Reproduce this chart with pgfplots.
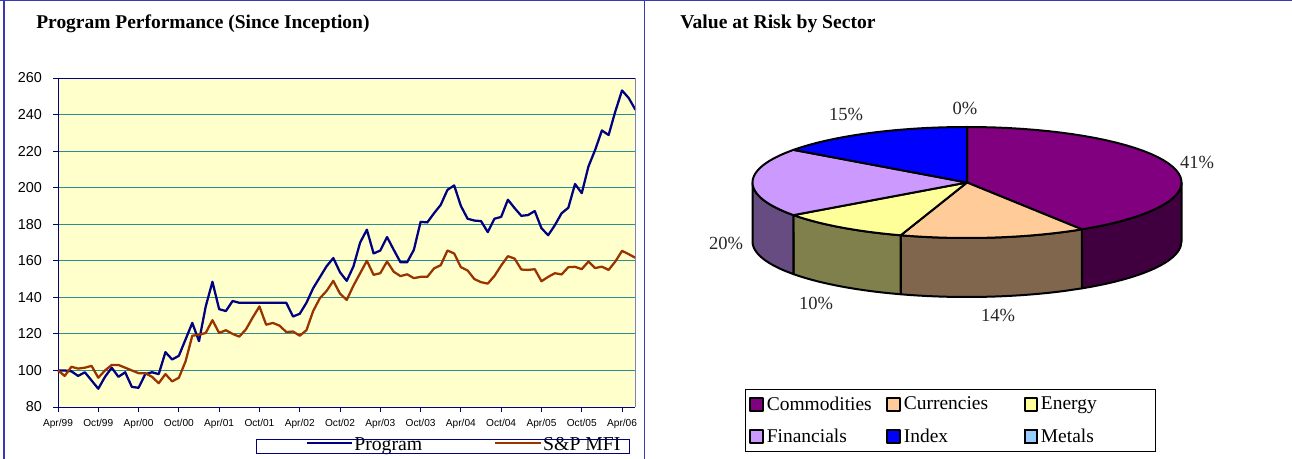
\documentclass[border=0pt]{standalone}
\usepackage{fontspec}
\setmainfont{Liberation Serif}
\newfontfamily\arialf{Liberation Sans}
\usepackage{pgfplots}
\pgfplotsset{compat=1.18}
\definecolor{frameblue}{HTML}{3A3AB0}
\definecolor{navyl}{HTML}{000080}
\definecolor{brownl}{HTML}{993300}
\definecolor{plotbg}{HTML}{FFFFCC}
\definecolor{gridt}{HTML}{2F8C8C}
\definecolor{cComm}{HTML}{800080}
\definecolor{cCurr}{HTML}{FFCC99}
\definecolor{cEner}{HTML}{FFFF99}
\definecolor{cFina}{HTML}{CC99FF}
\definecolor{cIndx}{HTML}{0000FF}
\definecolor{cMetl}{HTML}{99CCFF}
\definecolor{sComm}{HTML}{400040}
\definecolor{sCurr}{HTML}{80664C}
\definecolor{sEner}{HTML}{80804C}
\definecolor{sFina}{HTML}{664C80}
\newcommand\pad[1]{\rule{#1}{0pt}}
\newcommand\pieslice[4]{\addplot[fill=#3,draw=black,line width=1.5pt,line join=round,variable=\s,
  samples at={-1,0,0.025,...,0.975,1}]
  ({\s<0 ? 967 : 967+214.5*sin(#1+(#2-#1)*\s)},{\s<0 ? 182.5 : 182.5-55.5*cos(#1+(#2-#1)*\s)}) -- cycle;
  \addlegendentry{#4}}
\newcommand\pieside[3]{\addplot[forget plot,fill=#3,draw=black,line width=1.5pt,line join=round,variable=\s,
  samples at={0,0.05,...,0.95,1,1.001,1.05,1.1,...,1.95,2}]
  ({967+214.5*sin(\s<=1 ? #1+(#2-#1)*\s : #2-(#2-#1)*(\s-1))},
   {182.5-55.5*cos(\s<=1 ? #1+(#2-#1)*\s : #2-(#2-#1)*(\s-1))+(\s<=1 ? 0 : 59)}) -- cycle;}
\begin{document}
\begin{tikzpicture}
\path[use as bounding box] (0,0) rectangle (969pt,344.25pt);
\begin{axis}[
  at={(43.5pt,39pt)},anchor=south west,scale only axis,
  width=433.1pt,height=246.75pt,
  xmin=0,xmax=86,ymin=80,ymax=260,
  axis background/.style={fill=plotbg},
  axis line style={navyl,line width=0.7pt},
  axis x line*=bottom, axis y line*=left,
  ytick={80,100,...,260},
  xtick={0,6,...,84},
  xticklabels={Apr/99,Oct/99,Apr/00,Oct/00,Apr/01,Oct/01,Apr/02,Oct/02,Apr/03,Oct/03,Apr/04,Oct/04,Apr/05,Oct/05,Apr/06},
  ymajorgrids,
  grid style={gridt,line width=0.6pt},
  tick style={navyl,line width=0.6pt},
  tick align=outside,
  major tick length=3.5pt,
  /pgf/number format/assume math mode=true,
  y tick label style={font=\arialf\fontsize{10.8}{12}\selectfont,xshift=-5pt},
  x tick label style={font=\arialf\fontsize{7.6}{9}\selectfont,yshift=-2.2pt},
  title={Program Performance (Since Inception)},
  title style={at={(-0.038,1.14)},anchor=west,font=\bfseries\fontsize{14.6}{16}\selectfont,inner sep=0pt},
  clip=false,
  legend columns=2,
  legend image code/.code={\draw[#1] (0pt,0pt) -- (34pt,0pt);},
  legend style={at={(axis cs:36.8,60.2)},anchor=west,draw=none,fill=none,inner sep=0pt,
    font=\fontsize{14.8}{15}\selectfont,
    nodes={inner sep=1pt,text depth=0pt}},
]
\addplot[navyl,line width=1.7pt,line join=round] coordinates {
(0,100)(1,100)(2,99.5)(3,97)(4,99)(5,94.5)(6,90)(7,96.5)(8,101.5)(9,96.5)(10,99)(11,91)(12,90.5)(13,98)(14,99)(15,98)(16,110)(17,106)(18,108)(19,117)(20,126)(21,116)(22,135)(23,148.5)(24,133.5)(25,132.5)(26,138)(27,137)(28,137)(29,137)(30,137)(31,137)(32,137)(33,137)(34,137)(35,129.5)(36,131)(37,137)(38,145)(39,151)(40,157)(41,161.5)(42,153.7)(43,149)(44,156.9)(45,170)(46,177)(47,164)(48,165.6)(49,173)(50,166)(51,159.2)(52,159.2)(53,166)(54,181.3)(55,181)(56,186)(57,190.6)(58,198.8)(59,201.2)(60,190)(61,183)(62,182)(63,181.7)(64,175.7)(65,183)(66,184)(67,193.4)(68,188.8)(69,184.6)(70,185)(71,187.2)(72,177.8)(73,174)(74,179.5)(75,186)(76,189)(77,202)(78,197)(79,211.6)(80,220.7)(81,231.3)(82,228.8)(83,241.7)(84,253.2)(85,249)(86,242.6)};
\addlegendentry{\raisebox{-1.5pt}{Program\pad{53pt}}}
\addplot[brownl,line width=1.7pt,line join=round] coordinates {
(0,100)(1,97)(2,102)(3,101)(4,101.5)(5,102.5)(6,96)(7,100)(8,103)(9,103)(10,101.5)(11,100)(12,98.5)(13,98.5)(14,96.5)(15,93)(16,98)(17,94)(18,96)(19,105)(20,119)(21,119.5)(22,120.5)(23,127.5)(24,120.5)(25,122)(26,120)(27,118.5)(28,122.5)(29,129)(30,135)(31,125)(32,126)(33,124.5)(34,121)(35,121.3)(36,119)(37,122)(38,132.5)(39,139.5)(40,143.5)(41,149)(42,142)(43,138.6)(44,146.4)(45,153.2)(46,160)(47,152.3)(48,153.2)(49,159.6)(50,154)(51,151.6)(52,152.6)(53,150.5)(54,151.2)(55,151.2)(56,155.8)(57,157.6)(58,165.6)(59,164)(60,156.5)(61,154.7)(62,150)(63,148.3)(64,147.5)(65,151.7)(66,157.4)(67,162.5)(68,161.2)(69,155.2)(70,155)(71,155.4)(72,148.8)(73,151.2)(74,153.2)(75,152.5)(76,156.5)(77,156.7)(78,155.4)(79,159.6)(80,156)(81,156.8)(82,155)(83,159.6)(84,165.4)(85,163.6)(86,161.6)};
\addlegendentry{\raisebox{-1.5pt}{S\&P MFI}}
\draw[navyl,line width=0.7pt] (rel axis cs:0,1) -- (rel axis cs:1,1);
\draw[color={rgb,255:red,128;green,128;blue,176},line width=1.2pt] (rel axis cs:1,0) -- (rel axis cs:1,1);
\end{axis}
\begin{axis}[
  at={(483pt,0pt)},anchor=south west,scale only axis,
  width=486pt,height=344.25pt,
  xmin=644,xmax=1292,ymin=0,ymax=459,y dir=reverse,
  hide axis,clip=false,
  legend columns=3,
  legend image code/.code={\draw[#1,line width=1.5pt] (0.5pt,-4.8pt) rectangle (10.1pt,4.8pt); \path[draw=none,fill=none] (0pt,0pt) -- (11.8pt,0pt);},
  legend cell align=left,
  legend style={at={(axis cs:745,389)},anchor=north west,draw=black,line width=0.7pt,inner xsep=3pt,inner ysep=4.5pt,
    font=\fontsize{14.6}{15}\selectfont,
    row sep=10.5pt,
    nodes={inner sep=1pt}},
]
\pieside{90}{147.6}{sComm}
\pieside{147.6}{198}{sCurr}
\pieside{198}{234}{sEner}
\pieside{234}{270}{sFina}
\pieslice{0}{147.6}{cComm}{Commodities\pad{10pt}}
\pieslice{147.6}{198}{cCurr}{Currencies\pad{25.5pt}}
\pieslice{198}{234}{cEner}{Energy\pad{40pt}}
\pieslice{234}{306}{cFina}{Financials}
\pieslice{306}{360}{cIndx}{Index}
\addlegendimage{fill=cMetl,draw=black}
\addlegendentry{Metals}
\begin{scope}[every node/.style={font=\fontsize{13.9}{15}\selectfont,text=black!85,inner sep=0pt}]
\node at (axis cs:965,108) {0\%};
\node at (axis cs:846,114) {15\%};
\node at (axis cs:1197,162) {41\%};
\node at (axis cs:726,243) {20\%};
\node at (axis cs:816,303) {10\%};
\node at (axis cs:998,315) {14\%};
\end{scope}
\node[anchor=west,inner sep=0pt,font=\bfseries\fontsize{14.7}{16}\selectfont] at (axis cs:680,23.5) {Value at Risk by Sector};
\end{axis}
\begin{scope}[shift={(0,344.25pt)},x=0.75pt,y=-0.75pt]
\draw[frameblue,line width=0.9pt] (0,0.5) -- (1292,0.5);
\draw[frameblue,line width=0.9pt] (4,0) -- (4,459);
\draw[frameblue,line width=0.9pt] (644.5,0) -- (644.5,459);
\draw[navyl,line width=0.7pt] (256,439) rectangle (629,453);
\end{scope}
\end{tikzpicture}
\end{document}
